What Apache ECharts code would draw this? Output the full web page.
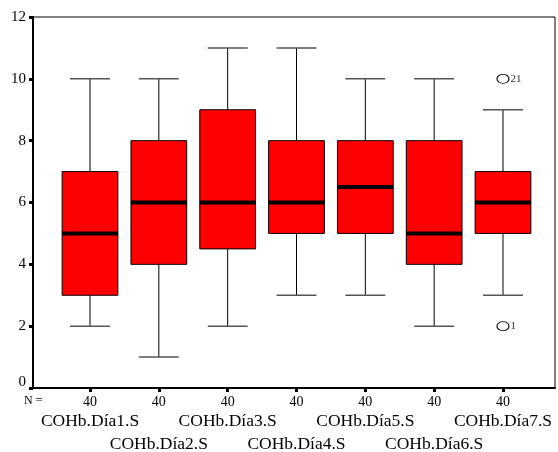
<!DOCTYPE html>
<html><head><meta charset="utf-8">
<script src="https://cdn.jsdelivr.net/npm/echarts@6/dist/echarts.min.js"></script>
<style>html,body{margin:0;padding:0;background:#fff}#c{width:558px;height:452px}</style>
</head><body><div id="c"></div>
<script>
const categories = ['COHb.Día1.S','COHb.Día2.S','COHb.Día3.S','COHb.Día4.S','COHb.Día5.S','COHb.Día6.S','COHb.Día7.S'];
const nValues = [40,40,40,40,40,40,40];
const mins    = [2,1,2,3,3,2,3];
const q1s     = [3,4,4.5,5,5,4,5];
const medians = [5,6,6,6,6.5,5,6];
const q3s     = [7,8,9,8,8,8,7];
const maxs    = [10,10,11,11,10,10,9];
const outlierCats   = [6,6];
const outlierValues = [10,2];
const outlierLabels = ['21','1'];

const FONT = 'Liberation Serif';
const boxData = categories.map((c,i)=>[i,mins[i],q1s[i],medians[i],q3s[i],maxs[i]]);
const outData = outlierCats.map((c,i)=>({value:[c,outlierValues[i]],label:outlierLabels[i]}));

const chart = echarts.init(document.getElementById('c'));
chart.setOption({
  backgroundColor:'#fff',
  animation:false,
  grid:[
    {left:33,right:3,top:17,bottom:64,show:true,borderColor:'#000',borderWidth:1,backgroundColor:'transparent',outerBoundsMode:'none',containLabel:false},
    {left:55.6,width:481.8,top:17,bottom:64,outerBoundsMode:'none',containLabel:false}
  ],
  xAxis:[
    {gridIndex:0,type:'value',min:0,max:1,show:true,axisLine:{show:true,lineStyle:{color:'#000',width:2}},axisTick:{show:false},axisLabel:{show:false},splitLine:{show:false}},
    {gridIndex:1,type:'category',data:nValues.map(String),boundaryGap:true,axisLine:{show:false},
      axisTick:{show:true,alignWithLabel:true,length:4,lineStyle:{color:'#000',width:3}},
      axisLabel:{interval:0,margin:7,fontFamily:FONT,fontSize:14,color:'#000'},splitLine:{show:false}},
    {gridIndex:1,type:'category',data:categories,boundaryGap:true,position:'bottom',axisLine:{show:false},axisTick:{show:false},
      axisLabel:{interval:0,margin:22,fontFamily:FONT,fontSize:17.5,color:'#000',lineHeight:23,
        formatter:(v,i)=> i%2 ? '\n'+v : v},splitLine:{show:false}}
  ],
  yAxis:[
    {gridIndex:0,type:'value',min:0,max:12,interval:2,
      axisLine:{show:true,lineStyle:{color:'#000',width:2}},
      axisTick:{show:true,length:4,lineStyle:{color:'#000',width:3}},
      axisLabel:{margin:7,fontFamily:FONT,fontSize:15,color:'#000',
        formatter:v=> v===0 ? '{z|0}' : String(v),
        rich:{z:{fontFamily:FONT,fontSize:15,color:'#000',padding:[0,0,12,0]}}},
      splitLine:{show:false}},
    {gridIndex:1,type:'value',min:0,max:12,interval:2,show:false}
  ],
  graphic:[{type:'text',left:24,top:395,style:{text:'N =',font:'12px "Liberation Serif"',fill:'#000'}}],
  series:[
    {type:'custom',xAxisIndex:1,yAxisIndex:1,data:boxData,
      renderItem:(params,api)=>{
        const i=api.value(0);
        const band=api.size([1,0])[0];
        const bw=band*0.81/2, cw=band*0.58/2;
        const pMin=api.coord([i,api.value(1)]), pQ1=api.coord([i,api.value(2)]),
              pMed=api.coord([i,api.value(3)]), pQ3=api.coord([i,api.value(4)]), pMax=api.coord([i,api.value(5)]);
        const x=pMin[0];
        return {type:'group',children:[
          {type:'line',shape:{x1:x,y1:pMax[1],x2:x,y2:pQ3[1]},style:{stroke:'#000',lineWidth:1}},
          {type:'line',shape:{x1:x,y1:pQ1[1],x2:x,y2:pMin[1]},style:{stroke:'#000',lineWidth:1}},
          {type:'line',shape:{x1:x-cw,y1:pMax[1],x2:x+cw,y2:pMax[1]},style:{stroke:'#555',lineWidth:1.5}},
          {type:'line',shape:{x1:x-cw,y1:pMin[1],x2:x+cw,y2:pMin[1]},style:{stroke:'#555',lineWidth:1.5}},
          {type:'rect',shape:{x:x-bw,y:pQ3[1],width:bw*2,height:pQ1[1]-pQ3[1]},style:{fill:'#ff0000',stroke:'#000',lineWidth:1}},
          {type:'line',shape:{x1:x-bw,y1:pMed[1],x2:x+bw,y2:pMed[1]},style:{stroke:'#000',lineWidth:4}}
        ]};
      }},
    {type:'scatter',xAxisIndex:1,yAxisIndex:1,data:outData,symbol:'circle',symbolSize:[12,9],
      itemStyle:{color:'#fff',borderColor:'#000',borderWidth:1,opacity:1},
      label:{show:true,position:'right',distance:1,formatter:p=>p.data.label,fontFamily:FONT,fontSize:11,color:'#333'}}
  ]
});
</script></body></html>
